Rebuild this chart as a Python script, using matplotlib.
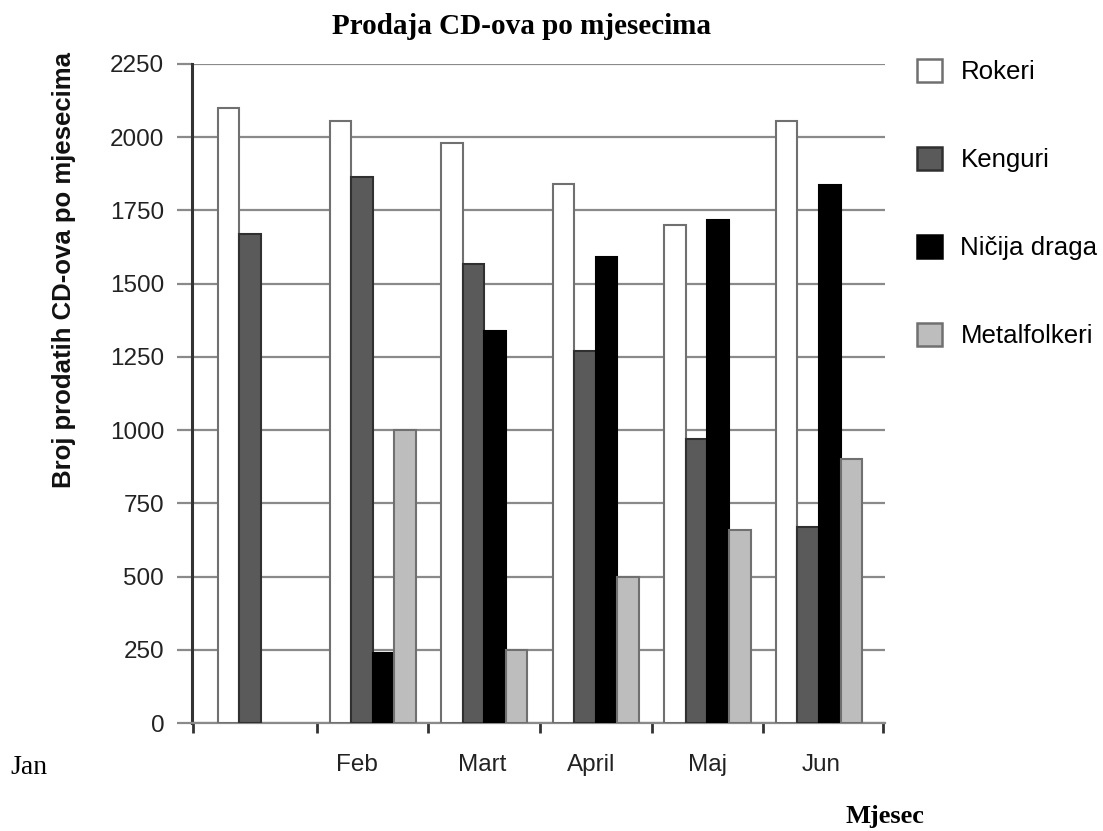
import numpy as np
import matplotlib
matplotlib.use('Agg')
import matplotlib.pyplot as plt
from matplotlib.patches import Patch

months = ['Jan', 'Feb', 'Mart', 'April', 'Maj', 'Jun']
series = ['Rokeri', 'Kenguri', 'Ničija draga', 'Metalfolkeri']
rokeri = [2100, 2055, 1980, 1840, 1700, 2055]
kenguri = [1668, 1865, 1566, 1270, 970, 668]
nicija = [0, 240, 1340, 1590, 1718, 1836]
metal = [0, 1000, 250, 500, 660, 900]
yticks = [0, 250, 500, 750, 1000, 1250, 1500, 1750, 2000, 2250]
# month labels sit a little off the group centres in the original
label_pos = [0.86, 1.98, 2.96, 4.0, 5.02]

values = [rokeri, kenguri, nicija, metal]
fills = ['#ffffff', '#5a5a5a', '#000000', '#bdbdbd']
edges = ['#707070', '#303030', '#000000', '#707070']

W, H = 1103, 831
fig = plt.figure(figsize=(W / 100, H / 100), dpi=100)
ax = fig.add_axes([192 / W, 1 - 723 / H, (885 - 192) / W, (723 - 64) / H])

sans = 'Liberation Sans'
serif = 'Liberation Serif'

x = np.arange(len(months))
w = 0.193
for k, (vals, fc, ec, name) in enumerate(zip(values, fills, edges, series)):
    vals = np.array(vals, dtype=float)
    # empty bars get no outline
    ecs = [ec if v > 0 else 'none' for v in vals]
    ax.bar(x + (k - 1.5) * w, vals, w, color=fc, edgecolor=ecs, linewidth=1.5,
           zorder=3, label=name)

xmin, xmax = -0.618, 5.591
ax.set_ylim(0, 2250)
ax.set_xlim(xmin, xmax)
ax.set_yticks(yticks)
ax.set_yticklabels([str(v) for v in yticks], fontsize=17.5, family=sans, color='#222222')
ax.yaxis.grid(True, color='#8a8a8a', linewidth=1.6, zorder=0)
ax.set_axisbelow(True)
ax.tick_params(axis='y', length=11, width=1.6, color='#8a8a8a', pad=9)

# tick marks between groups, labels under groups
ax.set_xticks([xmin + 0.005, 0.5, 1.5, 2.5, 3.5, 4.5, 5.573])
ax.set_xticklabels([])
ax.tick_params(axis='x', which='major', length=7.5, width=2, color='#333333')
ax.set_xticks(label_pos, minor=True)
ax.set_xticklabels(months[1:], minor=True, fontsize=17.5, family=sans, color='#222222')
ax.tick_params(axis='x', which='minor', length=0, pad=22)

for s in ['top', 'right']:
    ax.spines[s].set_visible(False)
ax.spines['left'].set_color('#333333')
ax.spines['left'].set_linewidth(2.2)
ax.spines['bottom'].set_color('#8a8a8a')
ax.spines['bottom'].set_linewidth(1.6)

handles = [Patch(facecolor=fc, edgecolor=ec, linewidth=1.8) for fc, ec in zip(fills, edges)]
fig.legend(handles, series, loc='upper left', bbox_to_anchor=(917 / W, 1 - 59 / H),
           bbox_transform=fig.transFigure, frameon=False, borderpad=0, borderaxespad=0,
           handlelength=0.98, handleheight=0.98, handletextpad=0.7, labelspacing=2.43,
           prop={'family': sans, 'size': 18.6})

fig.text(522 / W, 1 - 27 / H, 'Prodaja CD-ova po mjesecima', ha='center', va='center',
         family=serif, weight='bold', fontsize=21)
fig.text(64 / W, 1 - 52 / H, 'Broj prodatih CD-ova po mjesecima', rotation=90,
         ha='center', va='top', family=sans, weight='bold', fontsize=18.5, color='#111111')
fig.text(885 / W, 1 - 817 / H, 'Mjesec', ha='center', va='center',
         family=serif, weight='bold', fontsize=19)
fig.text(10 / W, 1 - 767 / H, 'Jan', ha='left', va='center', family=serif, fontsize=20)

fig.savefig('out.png', dpi=100, facecolor='white')
